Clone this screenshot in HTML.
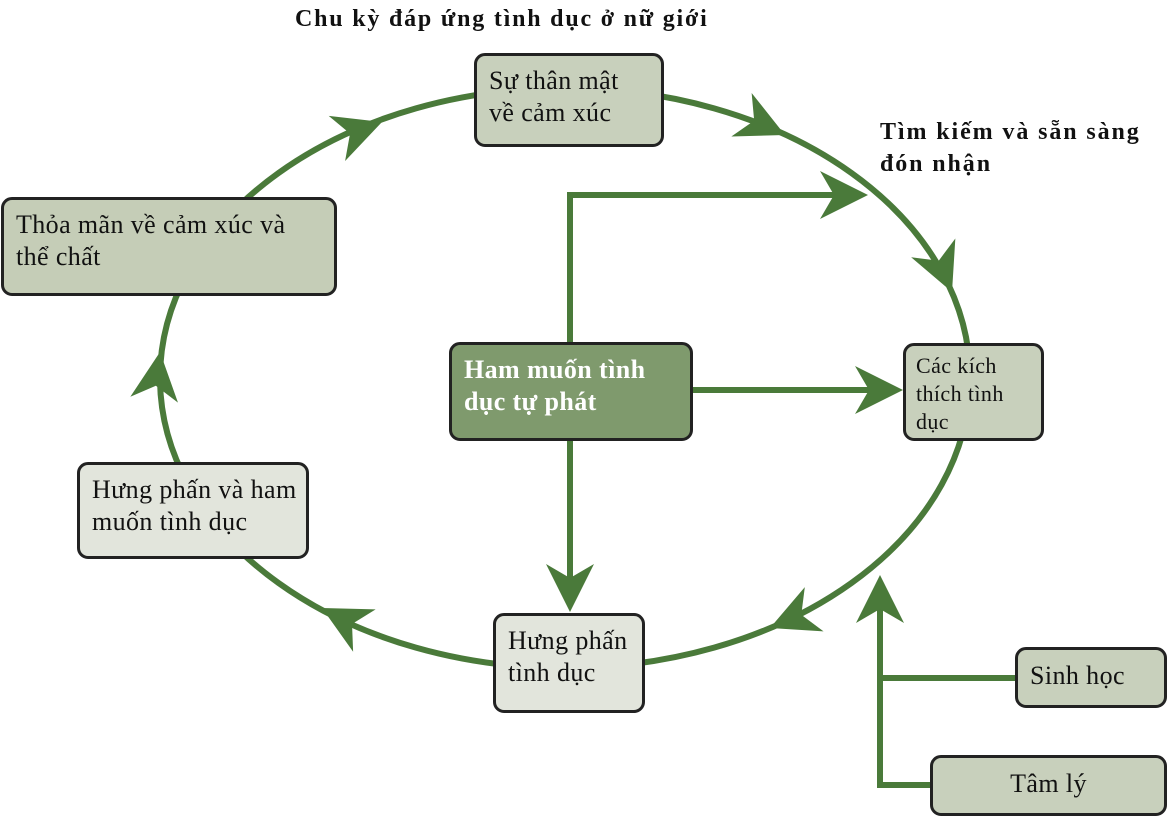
<!DOCTYPE html>
<html><head><meta charset="utf-8"><style>
body{margin:0;width:1169px;height:818px;background:#fff;position:relative;overflow:hidden;font-family:"Liberation Serif","DejaVu Serif",serif;}
svg{position:absolute;left:0;top:0}
.b{position:absolute;box-sizing:border-box;border:3px solid #222;border-radius:11px;font-size:26px;letter-spacing:0.4px;line-height:32px;color:#111;padding:9px 12px 8px;white-space:nowrap}
.t{position:absolute;font-weight:bold;font-size:24px;letter-spacing:1.8px;color:#111;line-height:32px;white-space:nowrap}
</style></head><body>
<svg width="1169" height="818">
<g fill="none" stroke="#4a7a3a" stroke-width="6">
<ellipse cx="565" cy="378" rx="405" ry="290"/>
<polyline points="570,345 570,195 860,195"/>
<line x1="690" y1="390" x2="895" y2="390"/>
<line x1="570" y1="438" x2="570" y2="600"/>
<polyline points="880,585 880,785 932,785"/>
<line x1="880" y1="678" x2="1017" y2="678"/>
</g>
<g fill="#4a7a3a">
<g transform="translate(785,135) rotate(25)"><polygon points="0,0 -48,-24 -34,0 -48,24"/></g>
<g transform="translate(952,292) rotate(67)"><polygon points="0,0 -48,-24 -34,0 -48,24"/></g>
<g transform="translate(770,628) rotate(157)"><polygon points="0,0 -48,-24 -34,0 -48,24"/></g>
<g transform="translate(322,608) rotate(208)"><polygon points="0,0 -48,-24 -34,0 -48,24"/></g>
<g transform="translate(160,352) rotate(-83)"><polygon points="0,0 -48,-24 -34,0 -48,24"/></g>
<g transform="translate(382,122) rotate(-20)"><polygon points="0,0 -48,-24 -34,0 -48,24"/></g>
<g transform="translate(868,195)"><polygon points="0,0 -48,-24 -34,0 -48,24"/></g>
<g transform="translate(903,390)"><polygon points="0,0 -48,-24 -34,0 -48,24"/></g>
<g transform="translate(570,612) rotate(90)"><polygon points="0,0 -48,-24 -34,0 -48,24"/></g>
<g transform="translate(880,575) rotate(-90)"><polygon points="0,0 -48,-24 -34,0 -48,24"/></g>
</g>
</svg>
<div class="t" style="left:295px;top:3px">Chu kỳ đáp ứng tình dục ở nữ giới</div>
<div class="t" style="left:880px;top:116px;letter-spacing:1.9px">Tìm kiếm và sẵn sàng<br>đón nhận</div>
<div class="b" style="left:474px;top:53px;width:190px;height:94px;background:#c8d0bc">Sự thân mật<br>về cảm xúc</div>
<div class="b" style="left:1px;top:197px;width:336px;height:99px;background:#c5cdb7">Thỏa mãn về cảm xúc và<br>thể chất</div>
<div class="b" style="left:449px;top:342px;width:244px;height:99px;background:#7f9a6d;color:#fff;font-weight:bold">Ham muốn tình<br>dục tự phát</div>
<div class="b" style="left:903px;top:343px;width:141px;height:98px;background:#c8d0bc;font-size:22px;line-height:28px;padding:6px 10px">Các kích<br>thích tình<br>dục</div>
<div class="b" style="left:77px;top:462px;width:232px;height:97px;background:#e2e5dc">Hưng phấn và ham<br>muốn tình dục</div>
<div class="b" style="left:493px;top:613px;width:152px;height:100px;background:#e2e5dc">Hưng phấn<br>tình dục</div>
<div class="b" style="left:1015px;top:647px;width:152px;height:61px;background:#c8d0bc;padding:10px 12px">Sinh học</div>
<div class="b" style="left:930px;top:755px;width:237px;height:61px;background:#c8d0bc;text-align:center;padding-top:10px">Tâm lý</div>
</body></html>
